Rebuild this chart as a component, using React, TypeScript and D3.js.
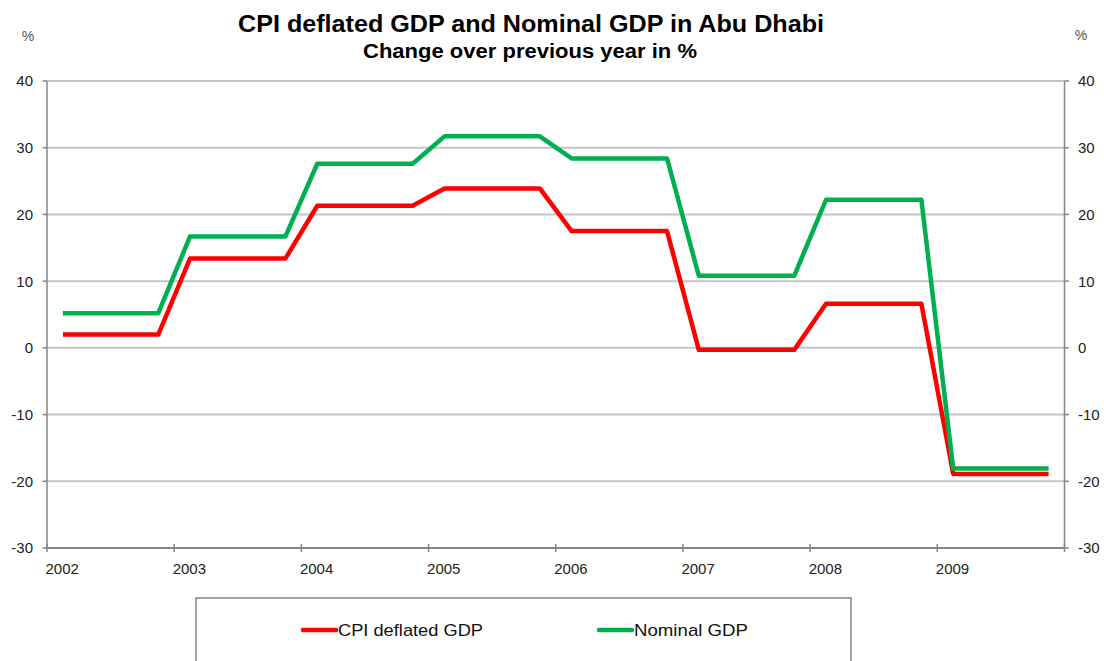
import React from "react";
import * as d3 from "d3";

const years = ["2002", "2003", "2004", "2005", "2006", "2007", "2008", "2009"];
const quarters = [
  "2002Q1","2002Q2","2002Q3","2002Q4","2003Q1","2003Q2","2003Q3","2003Q4",
  "2004Q1","2004Q2","2004Q3","2004Q4","2005Q1","2005Q2","2005Q3","2005Q4",
  "2006Q1","2006Q2","2006Q3","2006Q4","2007Q1","2007Q2","2007Q3","2007Q4",
  "2008Q1","2008Q2","2008Q3","2008Q4","2009Q1","2009Q2","2009Q3","2009Q4",
];
const cpiDeflated = [
  2.0, 2.0, 2.0, 2.0, 13.4, 13.4, 13.4, 13.4,
  21.3, 21.3, 21.3, 21.3, 23.9, 23.9, 23.9, 23.9,
  17.5, 17.5, 17.5, 17.5, -0.3, -0.3, -0.3, -0.3,
  6.6, 6.6, 6.6, 6.6, -18.9, -18.9, -18.9, -18.9,
];
const nominal = [
  5.2, 5.2, 5.2, 5.2, 16.7, 16.7, 16.7, 16.7,
  27.6, 27.6, 27.6, 27.6, 31.7, 31.7, 31.7, 31.7,
  28.4, 28.4, 28.4, 28.4, 10.8, 10.8, 10.8, 10.8,
  22.2, 22.2, 22.2, 22.2, -18.1, -18.1, -18.1, -18.1,
];
const yTicks = [-30, -20, -10, 0, 10, 20, 30, 40];

const series = [
  { name: "CPI deflated GDP", values: cpiDeflated, color: "#ff0000" },
  { name: "Nominal GDP", values: nominal, color: "#00b050" },
];

export default function App() {
  const W = 1104, H = 661;
  const left = 47, right = 1064.5, top = 81, bottom = 548;
  const x = d3.scaleBand<string>().domain(quarters).range([left, right]).padding(0);
  const y = d3.scaleLinear().domain([-30, 40]).range([bottom, top]);
  const line = d3
    .line<number>()
    .x((_, i) => (x(quarters[i]) as number) + x.bandwidth() / 2)
    .y((v) => y(v));
  const font = "Arial, 'Liberation Sans', sans-serif";
  const tickColor = "#222";
  const axisColor = "#868686";
  const gridColor = "#c4c4c4";

  return (
    <svg width={W} height={H} style={{ position: "absolute", left: 0, top: 0, background: "#fff" }} fontFamily={font}>
      <rect x={0} y={0} width={W} height={H} fill="#fff" />
      {/* title */}
      <text x={531} y={32} textAnchor="middle" fontWeight="bold" fontSize={23} textLength={586} lengthAdjust="spacingAndGlyphs" fill="#000">
        CPI deflated GDP and Nominal GDP in Abu Dhabi
      </text>
      <text x={530} y={58} textAnchor="middle" fontWeight="bold" fontSize={19.5} textLength={334} lengthAdjust="spacingAndGlyphs" fill="#000">
        Change over previous year in %
      </text>
      <text x={28} y={41} textAnchor="middle" fontSize={14} fill="#555">%</text>
      <text x={1081} y={40} textAnchor="middle" fontSize={14} fill="#555">%</text>

      {/* gridlines */}
      {yTicks.map((t) => (
        <line key={"g" + t} x1={left} x2={right} y1={y(t)} y2={y(t)} stroke={t === -30 ? axisColor : gridColor} strokeWidth={2} />
      ))}
      {/* axes */}
      <line x1={left} x2={left} y1={top} y2={bottom} stroke={axisColor} strokeWidth={1.5} />
      <line x1={right} x2={right} y1={top} y2={bottom} stroke={axisColor} strokeWidth={1.5} />
      {yTicks.map((t) => (
        <g key={"t" + t}>
          <line x1={left - 4.5} x2={left} y1={y(t)} y2={y(t)} stroke={axisColor} strokeWidth={1.5} />
          <line x1={right} x2={right + 4.5} y1={y(t)} y2={y(t)} stroke={axisColor} strokeWidth={1.5} />
          <text x={33} y={y(t)} dy="0.36em" textAnchor="end" fontSize={15} fill={tickColor}>{t}</text>
          <text x={1078} y={y(t)} dy="0.36em" textAnchor="start" fontSize={15} fill={tickColor}>{t}</text>
        </g>
      ))}
      {/* x ticks */}
      {years.map((yr, i) => {
        const xp = x(quarters[i * 4]) as number;
        return (
          <g key={yr}>
            <line x1={xp} x2={xp} y1={bottom - 4} y2={bottom + 4} stroke={axisColor} strokeWidth={1.5} />
            <text x={xp - 1.5} y={574} fontSize={15} fill={tickColor}>{yr}</text>
          </g>
        );
      })}
      <line x1={right} x2={right} y1={bottom - 4} y2={bottom + 4} stroke={axisColor} strokeWidth={1.5} />

      {/* series */}
      {series.map((s) => (
        <path key={s.name} d={line(s.values) as string} fill="none" stroke={s.color} strokeWidth={4.5} strokeLinejoin="round" />
      ))}

      {/* legend */}
      <rect x={196} y={598} width={655} height={80} fill="#fff" stroke={axisColor} strokeWidth={1.5} />
      <line x1={303} x2={336} y1={630} y2={630} stroke={series[0].color} strokeWidth={4.5} strokeLinecap="round" />
      <text x={338} y={636} fontSize={17} textLength={145} lengthAdjust="spacingAndGlyphs" fill="#111">{series[0].name}</text>
      <line x1={599} x2={632} y1={630} y2={630} stroke={series[1].color} strokeWidth={4.5} strokeLinecap="round" />
      <text x={634} y={636} fontSize={17} textLength={114} lengthAdjust="spacingAndGlyphs" fill="#111">{series[1].name}</text>
    </svg>
  );
}
